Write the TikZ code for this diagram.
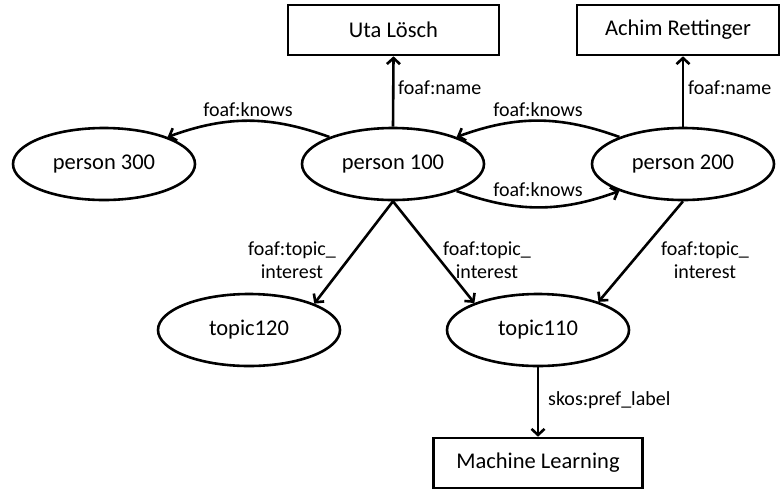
\documentclass[tikz,border=0pt]{standalone}
\usepackage{fontspec}
\setmainfont{Carlito}
\usetikzlibrary{shapes.geometric,arrows.meta}
\tikzset{
  ent/.style={ellipse, draw, line width=2.6pt, minimum width=182pt, minimum height=72pt, inner sep=0pt, font=\fontsize{22.5}{27}\selectfont},
  lit/.style={rectangle, draw, line width=2.6pt, minimum height=50pt, inner sep=0pt, font=\fontsize{22.5}{27}\selectfont},
  rel/.style={line width=2.6pt, -{Straight Barb[length=6pt,width=13pt]}},
  lab/.style={inner sep=0pt, font=\fontsize{20}{23}\selectfont, align=center}
}
\begin{document}
\begin{tikzpicture}[x=1pt,y=-1pt]
\useasboundingbox (0,0) rectangle (781,491);
\clip (0,0) rectangle (781,491);

% literal values
\node[lit, minimum width=211pt] (uta) at (393.5,30) {Uta Lösch};
\node[lit, minimum width=202pt] (achim) at (678,30) {Achim Rettinger};
\node[lit, minimum width=209pt] (ml) at (538,463) {Machine Learning};

% resources
\node[ent] (p300) at (104,164) {person 300};
\node[ent] (p100) at (393,164) {person 100};
\node[ent] (p200) at (683,164) {person 200};
\node[ent] (t120) at (249,330) {topic120};
\node[ent] (t110) at (538,330) {topic110};

% properties
\draw[rel] (p100.north) -- (uta.south);
\draw[rel] (p200.north) -- (p200.north |- achim.south);
\draw[rel] (p100.157) to[bend right=20] (p300.23);
\draw[rel] (p200.157) to[bend right=20] (p100.23);
\draw[rel] (p100.-23) to[bend right=20] (p200.-157);
\draw[rel] (p100.south) -- (t120.22);
\draw[rel] (p100.south) -- (t110.157);
\draw[rel] (p200.south) -- (t110.25);
\draw[rel] (t110.south) -- (ml.north);

% property labels
\node[lab, anchor=west] (ln1) at (398,88) {foaf:name};
\node[lab, anchor=west] (ln2) at (688,88) {foaf:name};
\node[lab] (lk1) at (248,110) {foaf:knows};
\node[lab] (lk2) at (538,110) {foaf:knows};
\node[lab] (lk3) at (538,190) {foaf:knows};
\node[lab] (lt1) at (292,260) {foaf:topic\_\\interest};
\node[lab] (lt2) at (487,260) {foaf:topic\_\\interest};
\node[lab] (lt3) at (705,260) {foaf:topic\_\\interest};
\node[lab, anchor=west] (ls) at (548,400) {skos:pref\_label};
\end{tikzpicture}
\end{document}
